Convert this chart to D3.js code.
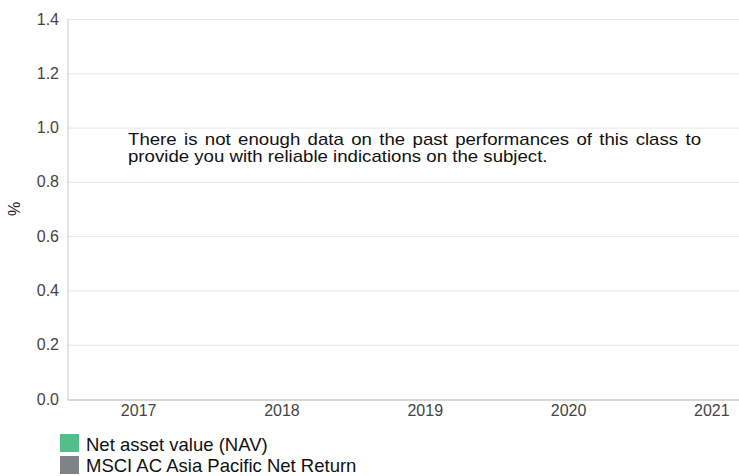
<!DOCTYPE html>
<html>
<head>
<meta charset="utf-8">
<script src="https://cdn.jsdelivr.net/npm/d3@7"></script>
<style>
    body { margin: 0; background: #fff; }
    text { font-family: "Liberation Sans", Arial, sans-serif; }
</style>
</head>
<body>
<svg id="visualisation"></svg>
<script>
// chart data
var years = ['2017', '2018', '2019', '2020', '2021'];
var navValues = [null, null, null, null, null];
var benchmarkValues = [null, null, null, null, null];
var yTicks = [0, 0.2, 0.4, 0.6, 0.8, 1.0, 1.2, 1.4];
var seriesNames = ['Net asset value (NAV)', 'MSCI AC Asia Pacific Net Return'];
var seriesColors = ['#52bf8a', '#808285'];
var messageLines = [
    'There is not enough data on the past performances of this class to',
    'provide you with reliable indications on the subject.'
];

var margin = { top: 19, right: 0, bottom: 77, left: 67 };
var width = 739 - margin.left - margin.right;
var height = 476 - margin.top - margin.bottom;
var fontFam = '"Liberation Sans", Arial, sans-serif';

var root = d3.select('#visualisation')
    .attr('width', 739)
    .attr('height', 476);

var svg = root.append('g')
    .attr('transform', `translate(${margin.left}, ${margin.top})`);

// X scale (bands run past the right edge like the original)
var xScale = d3.scaleBand()
    .domain(years)
    .range([0, 716.5]);

// Y scale
var yScale = d3.scaleLinear()
    .domain([0, 1.4])
    .range([height, 0]);

// grid lines
svg.append('g')
    .selectAll('line')
    .data(yTicks.slice(1))
    .enter()
    .append('line')
    .attr('x1', 0)
    .attr('x2', width)
    .attr('y1', d => yScale(d) + 0.5)
    .attr('y2', d => yScale(d) + 0.5)
    .attr('stroke', '#e6e6e6');

// Y axis
var yAxis = svg.append('g')
    .call(d3.axisLeft(yScale).tickValues(yTicks).tickFormat(d3.format('.1f')).tickSize(0).tickPadding(8));
yAxis.select('.domain').attr('stroke', '#c8c8c8').attr('transform', 'translate(0.5,0)');
yAxis.selectAll('text').attr('fill', '#444')
    .style('font-size', '16px')
    .style('font-family', fontFam);

// X axis
var xAxis = svg.append('g')
    .attr('transform', `translate(0, ${height})`)
    .call(d3.axisBottom(xScale).tickSize(0).tickPadding(6).tickSizeOuter(0));
xAxis.select('.domain').attr('stroke', '#b0b0b0').attr('transform', 'translate(0,0.5)');
xAxis.selectAll('text').attr('fill', '#444')
    .style('font-size', '16px')
    .style('font-family', fontFam);

// series (no values available)
[navValues, benchmarkValues].forEach((vals, i) => {
    svg.append('g')
        .selectAll('rect')
        .data(vals.map((v, j) => ({ year: years[j], v: v })).filter(d => d.v != null))
        .enter()
        .append('rect')
        .attr('x', d => xScale(d.year) + xScale.bandwidth() * (0.2 + i * 0.3))
        .attr('width', xScale.bandwidth() * 0.3)
        .attr('y', d => yScale(Math.max(0, d.v)))
        .attr('height', d => Math.abs(yScale(d.v) - yScale(0)))
        .attr('fill', seriesColors[i]);
});

// Y label
root.append('text')
    .attr('transform', 'translate(20, 209) rotate(-90)')
    .style('text-anchor', 'middle')
    .style('font-size', '16px')
    .attr('fill', '#222')
    .text('%');

// message: stretched a little wide, first line justified
var msgX = 128, msgW = 573, lastW = 420;
var msg = root.append('g');
var msgTexts = messageLines.map((line, i) => msg.append('text')
    .attr('y', 145 + i * 17)
    .style('font-size', '16px')
    .attr('fill', '#111')
    .text(line));
var sx = lastW / msgTexts[1].node().getComputedTextLength();
msg.attr('transform', `translate(${msgX},0) scale(${sx},1)`);
var firstLen = msgTexts[0].node().getComputedTextLength();
var nWords = messageLines[0].split(' ').length;
msgTexts[0].attr('word-spacing', (msgW / sx - firstLen) / (nWords - 1));

// legend
var legend = root.append('g')
    .attr('transform', 'translate(60, 434)');
seriesNames.forEach((name, i) => {
    legend.append('rect')
        .attr('x', 0)
        .attr('y', i * 22)
        .attr('width', 19)
        .attr('height', 18)
        .attr('fill', seriesColors[i]);
    legend.append('text')
        .attr('x', 26)
        .attr('y', i * 21 + 17)
        .style('font-size', '18.5px')
        .attr('fill', '#111')
        .text(name);
});
</script>
</body>
</html>
